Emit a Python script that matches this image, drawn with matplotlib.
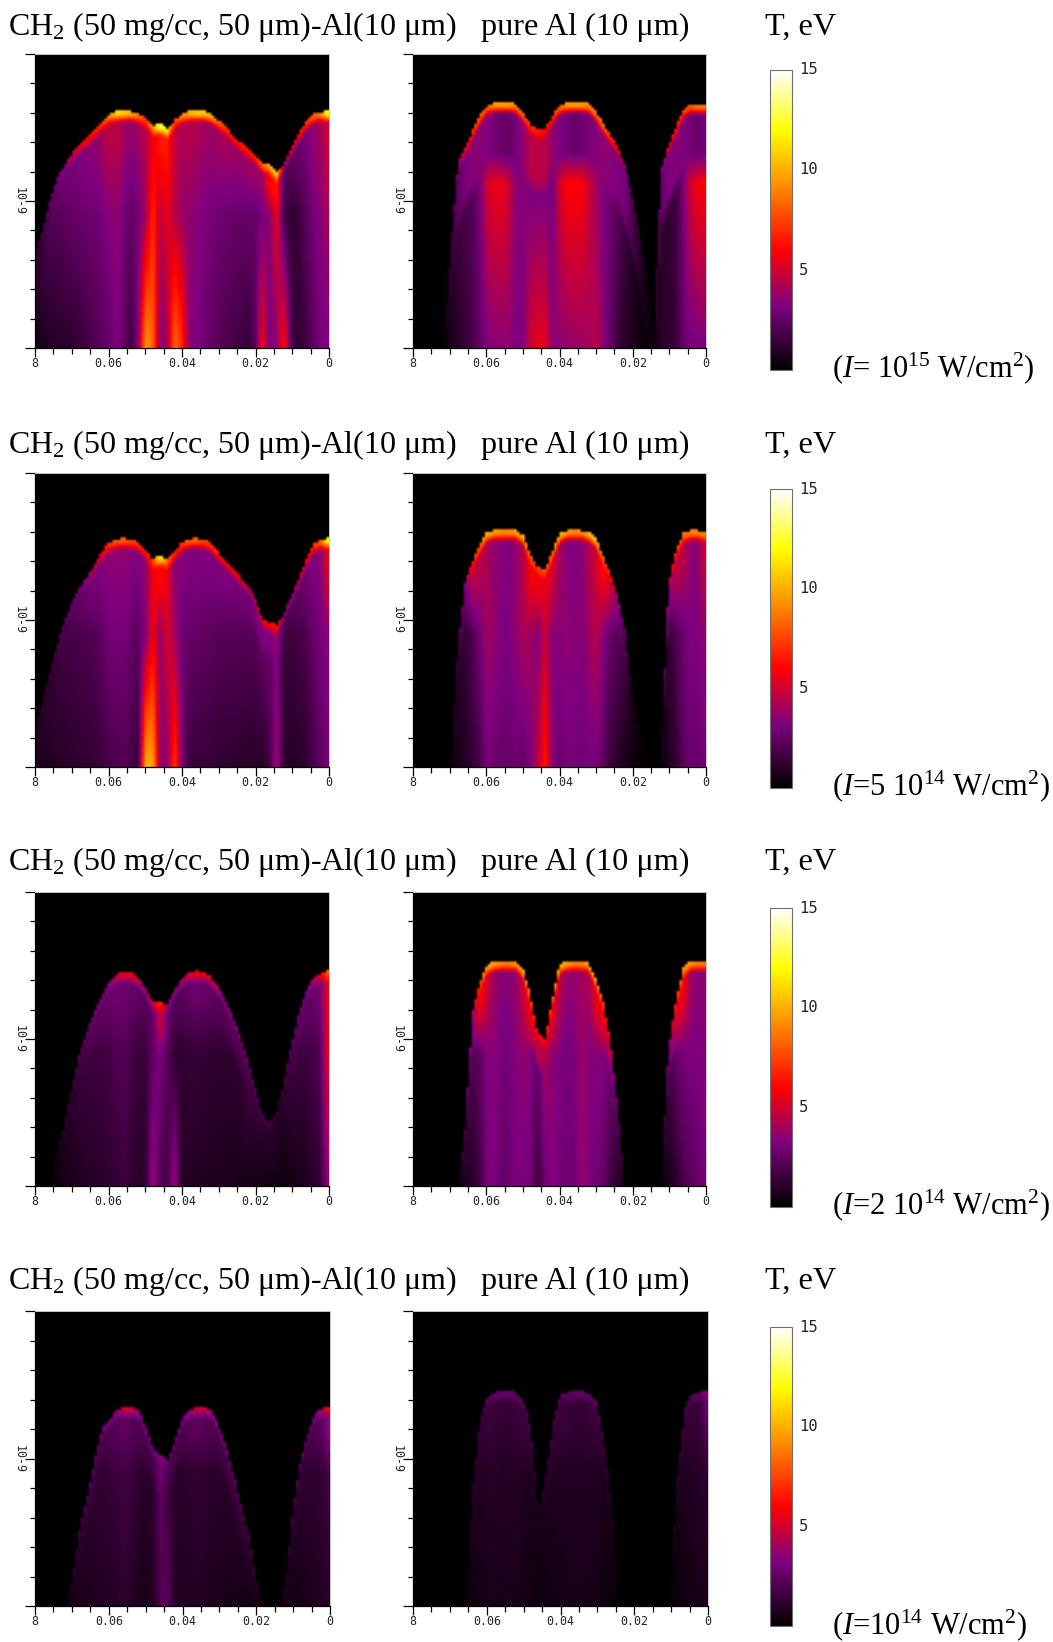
import numpy as np
import matplotlib
matplotlib.use("Agg")
import matplotlib.pyplot as plt
from matplotlib.colors import LinearSegmentedColormap, Normalize
from matplotlib.cm import ScalarMappable

plt.rcParams["font.family"] = "Liberation Serif"
plt.rcParams["mathtext.fontset"] = "custom"
plt.rcParams["mathtext.rm"] = "Liberation Serif"
plt.rcParams["mathtext.it"] = "Liberation Serif:italic"
plt.rcParams["mathtext.default"] = "regular"

# ---------- DATA: read per column, 0.08 (left) to 0 (right) in steps of 0.002 ----------
# front = height of the bright edge (axis fraction), T = eV at bottom, mid height, below rim, rim
positions = [0.08 - 0.002 * i for i in range(41)]

front_1L = [.334,.413,.515,.583,.628,.665,.697,.717,.742,.770, .798,.806,.806,.806,.798,.781,.755,.764,.747,.776,
            .798,.806,.806,.806,.798,.776,.753,.725,.702,.679, .657,.629,.629,.600,.629,.679,.730,.770,.796,.804, .806]
bot_1L = [.6,.7,.9,1,1,1.2,1.4,1.6,2,2.3, 2.6,3.2,2.6,1.4,3.5,9.5,8.5,3.2,4,8.5,
          7,3.4,3.2,2.8,2.5,2.2,2,1.8,1.6,1.4, 2,6,3,3.5,6.5,2,1.2,1.6,2.4,3, 3.2]
mid_1L = [1,1.5,2,2.2,2.4,2.6,2.6,2.8,2.8,3, 3.4,3.6,3,2.5,3,4,7,4.5,5.5,4.5,
          3.8,3.6,3.4,3.2,3,2.8,2.8,2.6,2.6,2.6, 2.6,3,3.5,5.5,1.8,1.2,1.5,2.2,3,3.4, 4]
sub_1L = [1,1.5,2.2,2.6,2.8,3,3.2,3.4,3.5,4, 4.6,4.6,4,3.6,4,4.4,5.6,6.5,6.5,4.6,
          4.2,4.4,4.2,4,3.8,4,4,3.8,3.8,3.8, 3.8,3.8,6,6.5,2,2.2,2.6,3,3.6,4, 5]
rim_1L = [1.5,1.8,2.4,3,3.6,4.6,5.5,6,6.5,7, 9,11,10.5,10,8.5,7,9,13,11,7,
          9,10,10.5,10.5,10,8,7,6.5,6.5,6.5, 6.5,8,10,11,3.5,5,6,7,8,9, 12]

front_1R = [0,0,0,0,0,.35,.63,.68,.74,.79, .825,.835,.835,.835,.83,.80,.76,.742,.745,.79,
            .825,.835,.835,.835,.832,.805,.765,.725,.69,.625, .52,.40,.24,.05,.61,.69,.75,.81,.83,.83, .83]
bot_1R = [0,0,0,0,0,.5,1,1.4,1.8,2.5, 3.2,3.4,3.5,3.5,3.2,3.2,5,5.5,5.5,3.5,
          3.5,3.6,3.8,3.8,4,4.5,3.5,2.5,1.5,1, .8,.5,.3,.3,1,1.2,1.5,2.5,3,3, 3.2]
mid_1R = [0,0,0,0,0,.8,1.5,1.8,2.2,3, 5,5.6,5.6,5,3.4,3.4,3.2,3.2,3.2,3,
          5,6,6,6,5,4,3.2,2.8,2.2,1.6, .8,.4,.2,.2,1,1.2,1.6,3,5,5.8, 6]
sub_1R = [0,0,0,0,0,1,2.5,3,3.5,3.5, 3.2,3,2.6,2.6,3,3.6,4.5,4.5,4.5,3.6,
          3.2,3,2.6,2.8,3,3.4,3.6,3.4,3.2,3, 2,1,.5,.3,2.5,3.2,3.4,3.2,3,2.6, 3]
rim_1R = [0,0,0,0,0,1.2,3,5.5,7,8, 8,9.5,9.5,9.5,9,8,7,6.5,6,7,
          8,9.5,9.5,9.5,9,8.5,8.5,7,6,3.5, 2,1,.6,.3,3,5,6.5,7.5,8,9, 9]

front_2L = [.14,.233,.335,.426,.506,.568,.614,.648,.688,.733, .765,.776,.778,.776,.765,.739,.705,.722,.705,.733,
            .765,.776,.778,.776,.761,.731,.705,.676,.648,.619, .58,.506,.494,.483,.523,.58,.642,.705,.758,.773, .778]
bot_2L = [.5,.7,.8,1,1,1.1,1.2,1.2,1.4,1.5, 1.8,1.9,2.2,1.8,1.4,10,10,3.5,3.5,7.5,
          3,1.6,1.4,1.4,1.4,1.2,1.2,1.2,1.1,1, 1,1,1.6,4,1.2,.9,1,1.2,1.8,2.4, 3]
mid_2L = [.8,1,1.2,1.5,1.6,1.8,2,2,2.2,2.4, 3,3,3,2.6,2.4,3.2,5.8,3.6,5.2,4,
          2.8,2.6,2.6,2.4,2.4,2.2,2.2,2.2,2.2,2.2, 2.2,2.4,2.6,3.2,1.6,1.5,1.8,2,2.6,3, 3.4]
sub_2L = [.8,1,1.2,1.5,1.8,2.1,2.4,2.8,3,3.2, 3.6,3.5,3.6,3.4,3.2,3.6,5.8,6.2,5.5,3.4,
          3.4,3.2,3.3,3.2,3.2,3.2,3.2,3,3,2.8, 3,3.2,3.2,3.6,1.8,2,2.4,2.8,3.2,3.4, 5.5]
rim_2L = [1,1.2,1.5,1.8,2.2,2.6,3,3.6,4.5,5.5, 7,8,8,7.5,7,6.5,7,12,8,6.5,
          7,8,8,7.5,7,6.5,6,5.5,5.5,4.5, 4,5.5,6,6.5,3.2,3.5,4.5,5.5,7,8, 12]

front_2R = [0,0,0,0,0,0,.42,.63,.70,.755, .80,.805,.805,.805,.805,.79,.725,.68,.675,.73,
            .795,.805,.805,.805,.80,.78,.72,.66,.58,.47, .25,.12,0,0,.05,.62,.735,.795,.805,.805, .80]
bot_2R = [0,0,0,0,0,.3,.6,.9,1.3,1.8, 3,2.8,2.6,2.6,2.8,2.4,3.2,4.5,6.5,3.5,
          2.6,3,3,2.8,3,3,2.4,1.5,1,.7, .4,.3,0,0,.2,.8,1.2,2.2,2.8,2.6, 3]
mid_2R = [0,0,0,0,0,.3,.9,1.4,2,3, 4,3.6,3.2,3.2,3.6,4.2,4,3.2,4.8,3.4,
          3.4,3.6,3.4,3.4,3.8,4.5,3.4,2.6,2.2,1.6, .5,.3,0,0,.2,1.2,2,2.8,3.2,3.2, 3.6]
sub_2R = [0,0,0,0,0,.3,1.2,2.6,4.5,4.5, 4.2,3.6,3.4,3.2,3.6,4.5,6,5.6,5.5,5.2,
          4,3.4,3.2,3.4,4.2,5,6,4.6,3,2, .6,.3,0,0,.2,3,4.6,4.6,3.6,3.4, 5]
rim_2R = [0,0,0,0,0,.3,1.5,3.5,6.5,8, 10,9.5,9,9,9.5,10,8,7,8,8,
          10,9.5,9,9,10,10.5,8,6.5,3.8,2.4, .8,.5,0,0,.2,4.5,7,8.5,9,9, 9]

front_3L = [0,0,0,.12,.23,.35,.457,.53,.593,.65, .695,.72,.73,.727,.707,.673,.622,.627,.614,.667,
            .707,.727,.732,.73,.712,.678,.633,.576,.514,.434, .343,.252,.213,.252,.355,.48,.582,.661,.707,.724, .732]
bot_3L = [0,0,0,.3,.5,.7,.8,.9,1,1, 1.2,1.3,1.6,1.2,1,1.2,4,2,1.8,4,
          1,.9,.9,.8,.8,.8,.7,.7,.6,.6, .6,.5,.5,.4,.4,.5,.6,.8,1,1.4, 3.5]
mid_3L = [0,0,0,.5,.8,1,1.3,1.5,1.6,1.6, 1.8,2,2.2,1.8,1.5,1.5,2.5,3.2,2.2,1.2,
          1.2,1.4,1.4,1.3,1.2,1.2,1.2,1.2,1.2,1.5, 1,.9,.8,.8,.8,1.4,1.6,1.6,1.8,2.2, 5.5]
sub_3L = [0,0,0,.5,.8,1.1,1.5,1.9,2.2,2.4, 2.6,2.8,2.8,2.6,2.4,2.2,2.4,5,2.8,2,
          2.2,2.6,2.8,2.6,2.4,2.2,2.2,2.2,2,1.8, 1.5,1.2,1.1,.9,1.1,1.7,2.2,2.4,2.6,3, 5.5]
rim_3L = [0,0,0,.8,1.2,1.6,2.2,2.6,2.8,3.1, 3.4,4.5,5.5,5.5,4.5,3.8,4.5,7,3.5,3.2,
          4,5,5.8,5.5,5,4,3.4,3.1,2.8,2.6, 2.2,1.8,1.6,1.2,1.6,2.4,2.8,3.1,4,5.2, 8]

front_3R = [0,0,0,0,0,0,0,.2,.59,.69, .755,.763,.765,.765,.765,.74,.65,.52,.50,.64,
            .755,.763,.765,.765,.76,.71,.63,.50,.28,0, 0,0,0,0,0,.47,.62,.74,.765,.765, .765]
bot_3R = [0,0,0,0,0,0,0,.8,1,1.6, 3,3.2,2.6,2.6,3.2,3,3,1.5,2.8,3.4,
          3,2.8,2.8,3.8,3.2,2.8,2.6,1.6,1,.5, 0,0,0,0,0,.6,1,1.8,2.2,2.6, 3]
mid_3R = [0,0,0,0,0,0,0,1,2,2.4, 3.4,3.4,3,3,3.4,3.6,3.4,2.4,3.8,3.6,
          3.2,3,3.2,3.8,3.4,3.4,3.4,2.6,1.6,.5, 0,0,0,0,0,1.4,2.6,3,3.2,3.2, 3.4]
sub_3R = [0,0,0,0,0,0,0,1.5,3,6, 5,3.8,3.4,3.4,3.6,5,5.8,4.5,4.4,5.6,
          4.6,3.6,3.6,4,4,5.5,5.6,4,2,.5, 0,0,0,0,0,2.5,5,6,4,3.4, 3.6]
rim_3R = [0,0,0,0,0,0,0,2,4,7, 10,9.5,9,9,9.5,10,8,6,6,8,
          10,9.5,9,9,9.5,10,7.5,5,2.6,.5, 0,0,0,0,0,3,6.5,9,9.5,9, 9]

front_4L = [0,0,0,0,0,.1,.28,.38,.50,.6, .63,.665,.672,.672,.66,.60,.53,.51,.49,.57,
            .64,.665,.672,.672,.66,.60,.53,.44,.33,.245, .09,0,0,0,.08,.33,.49,.58,.65,.67, .675]
bot_4L = [0,0,0,0,0,.5,.6,.7,.8,.9, .9,.9,1.2,.9,.7,.7,.9,2.2,2.2,.9,
          .8,.8,.9,.8,.7,.7,.6,.6,.6,.6, .4,0,0,0,.4,.5,.6,.7,.8,.9, 1]
mid_4L = [0,0,0,0,0,.6,.9,1,1.2,1.2, 1.4,1.5,1.8,1.5,1.2,1.1,1.2,2.4,1.6,1,
          1.1,1.2,1.3,1.2,1.1,1.1,1,1,.9,.8, .4,0,0,0,.4,.8,1,1.2,1.2,1.4, 1.8]
sub_4L = [0,0,0,0,0,.8,1.1,1.3,1.5,1.7, 1.9,2.2,2.5,2.2,2,1.8,1.8,3,1.8,1.7,
          1.9,2.2,2.4,2.2,1.9,1.8,1.6,1.5,1.3,1.1, .8,0,0,0,.7,1,1.3,1.6,2,2.4, 3.6]
rim_4L = [0,0,0,0,0,1.2,1.8,2.2,2.4,2.8, 3,3.5,4.8,4.8,3.4,3,2.8,3.4,2.6,2.8,
          3,3.6,4.8,4.6,3.6,3,2.8,2.4,2,1.8, 1.2,0,0,0,1,1.8,2.4,2.6,3,4, 6]

front_4R = [0,0,0,0,0,0,0,0,.40,.635, .71,.722,.725,.725,.722,.69,.60,.32,.44,.615,
            .715,.722,.725,.725,.72,.69,.55,.34,0,0, 0,0,0,0,0,0,.45,.67,.72,.722, .725]
bot_4R = [0,0,0,0,0,0,0,0,.4,.5, .6,.7,.6,.7,.6,.5,.5,.3,.4,.5,
          .5,.6,.6,.6,.6,.5,.4,.3,0,0, 0,0,0,0,0,0,.3,.4,.5,.6, .7]
mid_4R = [0,0,0,0,0,0,0,0,.7,.9, 1,1,.9,1,1,.9,.8,.5,.7,.8,
          .9,.9,.9,.9,.9,.9,.7,.5,0,0, 0,0,0,0,0,0,.6,.8,.9,1, 1.2]
sub_4R = [0,0,0,0,0,0,0,0,.9,1.2, 1.5,1.5,1.3,1.3,1.5,1.5,1.3,.6,1,1.3,
          1.5,1.5,1.3,1.3,1.5,1.5,1.1,.8,0,0, 0,0,0,0,0,0,.9,1.3,1.5,1.4, 2.6]
rim_4R = [0,0,0,0,0,0,0,0,1,1.5, 2.2,2.4,2.5,2.5,2.4,2.2,1.7,.8,1.2,1.7,
          2.2,2.4,2.5,2.5,2.4,2.2,1.5,1,0,0, 0,0,0,0,0,0,1.2,1.8,2.2,2.4, 3.5]

title_left = "CH$_{2}$ (50 mg/cc, 50 μm)-Al(10 μm)"
title_right = "pure Al (10 μm)"
title_bar = "T, eV"
intensity_labels = ["($\\mathit{I}$= 10$^{15}$ W/cm$^{2}$)", "($\\mathit{I}$=5 10$^{14}$ W/cm$^{2}$)",
                    "($\\mathit{I}$=2 10$^{14}$ W/cm$^{2}$)", "($\\mathit{I}$=10$^{14}$ W/cm$^{2}$)"]
x_tick_values = [0.08, 0.06, 0.04, 0.02, 0.0]
x_tick_labels = ["8", "0.06", "0.04", "0.02", "0"]

panel_data = [(front_1L, bot_1L, mid_1L, sub_1L, rim_1L), (front_1R, bot_1R, mid_1R, sub_1R, rim_1R),
              (front_2L, bot_2L, mid_2L, sub_2L, rim_2L), (front_2R, bot_2R, mid_2R, sub_2R, rim_2R),
              (front_3L, bot_3L, mid_3L, sub_3L, rim_3L), (front_3R, bot_3R, mid_3R, sub_3R, rim_3R),
              (front_4L, bot_4L, mid_4L, sub_4L, rim_4L), (front_4R, bot_4R, mid_4R, sub_4R, rim_4R)]

# height of the "mid" reading and how deep the "below rim" reading holds, per panel
mid_height = [.45, .56, .45, .45, .45, .45, .45, .45]
sub_depth = [.08, .17, .08, .08, .08, .08, .08, .08]

# ---------- LAYOUT in pixels of the 1053x1642 picture ----------
W, H = 1053, 1642
left_x = [(35, 329), (35, 329), (35, 329), (35, 330)]
right_x = [(413, 706), (413, 706), (413, 706), (413, 708)]
row_y = [(54, 348), (473, 767), (892, 1186), (1311, 1606)]
bar_y = [(70, 370), (489, 788), (908, 1207), (1327, 1626)]
title_y = [27, 445, 862, 1281]
note_y = [368, 786, 1205, 1625]

# black - purple - red - yellow - white, stops taken from the colorbar
stops = [(0, (0, 0, 0)), (3.2 / 15, (0.5, 0, 0.5)), (6 / 15, (1, 0, 0)),
         (9.8 / 15, (1, 0.65, 0)), (12 / 15, (1, 1, 0)), (1, (1, 1, 1))]
cmap = LinearSegmentedColormap.from_list("temp", stops)
norm = Normalize(0, 15)


def px_axes(fig, x0, x1, y0, y1):
    return fig.add_axes([x0 / W, 1 - y1 / H, (x1 - x0) / W, (y1 - y0) / H])


def build_grid(data, mid_y, depth, n=110):
    front, bot, mid, sub, rim = data
    xs = np.linspace(0.08, 0, n)
    pos = np.array(positions)[::-1]
    col = lambda a: np.interp(xs, pos, np.array(a, dtype=float)[::-1])
    f, b, m, s, r = col(front), col(bot), col(mid), col(sub), col(rim)
    ys = (np.arange(n) + 0.5) / n
    grid = np.zeros((n, n))

    for j in range(n):
        if f[j] < 0.01:
            continue
        # mid reading slides down under low parts of the front, so neighbour columns stay continuous
        y_sub = f[j] - depth
        y_mid = min(mid_y, y_sub - 0.06)
        levels = np.array([0, y_mid, y_sub, f[j] - 0.04, f[j] - 0.012])
        levels = np.maximum.accumulate(np.maximum(levels, 0) + np.arange(5) * 1e-4)
        t = np.interp(ys, levels, [b[j], m[j], s[j], s[j], r[j]])
        t[ys > f[j]] = 0
        grid[:, j] = t

    return grid


def style_axes(ax):
    ax.set_xlim(0.08, 0)
    ax.set_ylim(0, 1)
    ax.set_xticks(x_tick_values)
    ax.set_xticklabels(x_tick_labels, family="DejaVu Sans Mono", fontsize=8.4, color="#222222")
    ax.set_xticks(np.arange(0, 0.0801, 0.005), minor=True)
    ax.set_yticks([0, 0.5, 1])
    ax.set_yticklabels(["", "10-9", ""], family="DejaVu Sans Mono", fontsize=8.4,
                       rotation=270, va="center", color="#222222")
    ax.set_yticks(np.arange(0, 1.01, 0.1), minor=True)
    ax.tick_params(axis="x", which="major", length=6.5, width=0.9, pad=0)
    ax.tick_params(axis="x", which="minor", length=4.5, width=0.9)
    ax.tick_params(axis="y", which="major", length=7, width=0.9, pad=0)
    ax.tick_params(axis="y", which="minor", length=3.5, width=0.9)
    for s in ["top", "right"]:
        ax.spines[s].set_color("#c8c8c8")
        ax.spines[s].set_linewidth(0.7)
    for s in ["left", "bottom"]:
        ax.spines[s].set_linewidth(0.9)


fig = plt.figure(figsize=(W / 100, H / 100), dpi=100)

for row in range(4):
    y0, y1 = row_y[row]
    for k, (x0, x1) in enumerate([left_x[row], right_x[row]]):
        ax = px_axes(fig, x0, x1, y0, y1)
        idx = 2 * row + k
        grid = build_grid(panel_data[idx], mid_height[idx], sub_depth[idx])
        ax.imshow(grid, origin="lower", extent=[0.08, 0, 0, 1], aspect="auto",
                  cmap=cmap, norm=norm, interpolation="bilinear")
        style_axes(ax)

    cax = px_axes(fig, 770, 792, *bar_y[row])
    cb = fig.colorbar(ScalarMappable(norm=norm, cmap=cmap), cax=cax, ticks=[5, 10, 15])
    cb.ax.tick_params(length=0, pad=5)
    cb.ax.set_yticklabels(["5", "10", "15"], family="DejaVu Sans Mono", fontsize=11.2,
                          color="#222222", va="center")
    cb.outline.set_edgecolor("#707070")
    cb.outline.set_linewidth(0.8)

    size = 23.2
    fig.text(8 / W, 1 - title_y[row] / H, title_left, fontsize=23.05, va="center", ha="left")
    fig.text(481 / W, 1 - title_y[row] / H, title_right, fontsize=size, va="center", ha="left")
    fig.text(765 / W, 1 - title_y[row] / H, title_bar, fontsize=size, va="center", ha="left")
    fig.text(832 / W, 1 - note_y[row] / H, intensity_labels[row], fontsize=22, va="center", ha="left")

fig.savefig("out.png", dpi=100)
print("WROTE: out.png")
